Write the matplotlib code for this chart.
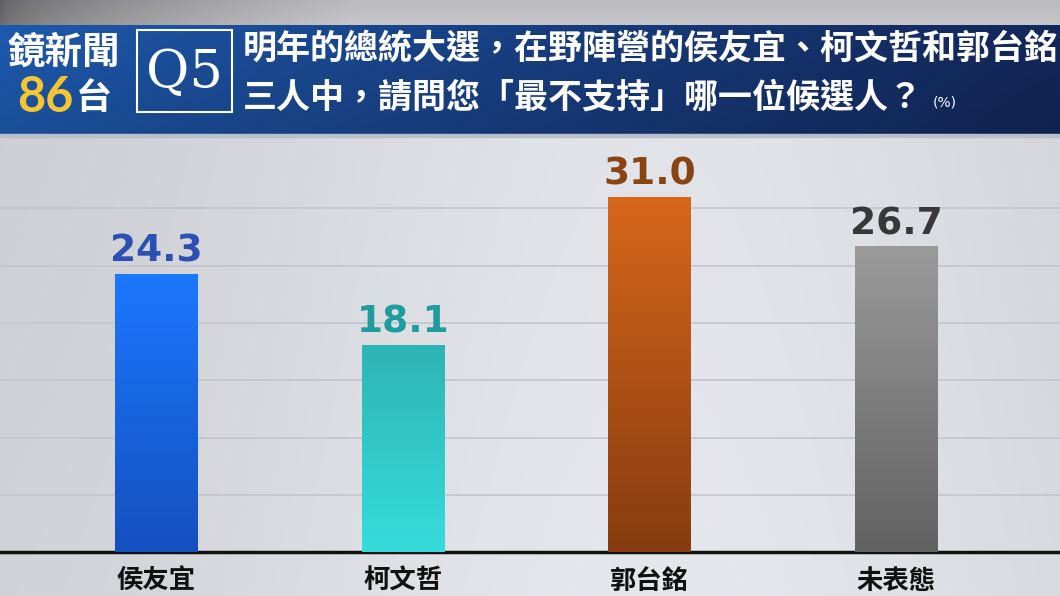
import numpy as np
import matplotlib
matplotlib.use("Agg")
import matplotlib.pyplot as plt
from matplotlib.colors import LinearSegmentedColormap
from matplotlib.patches import Rectangle

categories = ["侯友宜", "柯文哲", "郭台銘", "未表態"]
values = [24.3, 18.1, 31.0, 26.7]
value_labels = ["24.3", "18.1", "31.0", "26.7"]
bar_top_colors = ["#1c78ff", "#2eb4b4", "#d8671b", "#9a9a9a"]
bar_bottom_colors = ["#1450bf", "#36dcdc", "#863c10", "#626262"]
label_colors = ["#2b4fb3", "#1f9c9e", "#8a4412", "#383838"]
title_line1 = "明年的總統大選，在野陣營的侯友宜、柯文哲和郭台銘"
title_line2 = "三人中，請問您「最不支持」哪一位候選人？"

CJK = ["Noto Sans CJK TC", "DejaVu Sans"]
plt.rcParams["font.family"] = CJK

W, H = 1060, 596
fig = plt.figure(figsize=(W / 100, H / 100), dpi=100)

# ---- background
bg = fig.add_axes([0, 0, 1, 1])
bg.set_xlim(0, W)
bg.set_ylim(H, 0)
bg.axis("off")
xx = np.linspace(0, 1, 300)
yy = np.linspace(0, 1, 200)
X, Y = np.meshgrid(xx, yy)
base = 0.80 + 0.09 * np.exp(-((X - 0.62) ** 2) / 0.18) + 0.02 * Y
rgb = np.dstack([base * 0.985, base * 0.995, base * 1.02]).clip(0, 1)
bg.imshow(rgb, extent=[0, W, H, 0], aspect="auto", zorder=0)
# top gray band
tb = 0.38 + 0.35 * np.clip(X * 3, 0, 1) ** 0.6
tb = tb[:20] + 0.1 * Y[:20] * 5
tb_rgb = np.dstack([tb, tb, tb * 1.02]).clip(0, 1)
bg.imshow(tb_rgb, extent=[0, W, 25, 0], aspect="auto", zorder=1)
# blue banner
c1 = np.array([0x1e, 0x5a, 0xae]) / 255
c2 = np.array([0x13, 0x27, 0x5a]) / 255
t = np.clip(X ** 0.9, 0, 1)[..., None]
ban = c1 * (1 - t) + c2 * t
ban = ban * (1 - 0.12 * Y[..., None])
bg.imshow(ban.clip(0, 1), extent=[0, W, 136, 25], aspect="auto", zorder=1)
bg.add_patch(Rectangle((0, 134), W, 3, color="#b8c0cc", zorder=2))

# logo
bg.text(64, 52, "鏡新聞", color="white", fontsize=27, fontweight="bold",
        ha="center", va="center", zorder=3)
bg.text(17, 97, "86", color="#f3c531", fontsize=35, fontweight="bold",
        ha="left", va="center", family=["Lato", "DejaVu Sans"], zorder=3)
bg.text(112, 98, "台", color="white", fontsize=26, fontweight="bold",
        ha="right", va="center", zorder=3)
# Q5 box
bg.add_patch(Rectangle((137, 30), 95, 82, fill=False, edgecolor="white", lw=1.5, zorder=3))
bg.text(184.5, 72, "Q5", color="white", fontsize=38, ha="center", va="center",
        family=["DejaVu Serif"], zorder=3)
# title
bg.text(243, 48, title_line1, color="white", fontsize=24.5, fontweight="bold",
        ha="left", va="center", zorder=3)
bg.text(243, 97, title_line2, color="white", fontsize=24.5, fontweight="bold",
        ha="left", va="center", zorder=3)
bg.text(933, 103, "(%)", color="white", fontsize=10, ha="left", va="center",
        family=["DejaVu Sans"], zorder=3)

# ---- chart axes
top_px, base_px = 138, 552
ax = fig.add_axes([0, 1 - base_px / H, 1, (base_px - top_px) / H])
ax.patch.set_alpha(0)
spacing = 246.7
x = np.arange(len(categories))
ax.set_xlim(-156.5 / spacing, 3 + (W - 896.5) / spacing)
ax.set_ylim(0, (base_px - top_px) / 11.45)
ax.set_yticks(np.arange(5, 31, 5))
ax.yaxis.grid(True, color="#c2c5cc", lw=1.2)
ax.set_axisbelow(True)
ax.tick_params(left=False, labelleft=False, bottom=False, labelbottom=False)
for s in ["top", "right", "left"]:
    ax.spines[s].set_visible(False)
ax.spines["bottom"].set_color("#111111")
ax.spines["bottom"].set_linewidth(2.5)

bars = ax.bar(x, values, width=0.336, color="none", zorder=3)
grad = np.linspace(0, 1, 256).reshape(-1, 1)
for b, ct, cb in zip(bars, bar_top_colors, bar_bottom_colors):
    cmap = LinearSegmentedColormap.from_list("g", [cb, ct])
    x0, w, h = b.get_x(), b.get_width(), b.get_height()
    im = ax.imshow(grad, extent=[x0, x0 + w, 0, h], origin="lower", cmap=cmap,
                   aspect="auto", zorder=3)
    im.set_clip_path(b)

for xi, v, lab, col in zip(x, values, value_labels, label_colors):
    ax.annotate(lab, (xi, v), xytext=(0, 3), textcoords="offset points",
                ha="center", va="bottom", fontsize=27, fontweight="bold",
                color=col, family=["DejaVu Sans"], zorder=4)

ax.set_xticks(x)
for xi, c in zip(x, categories):
    ax.annotate(c, (xi, 0), xytext=(0, -21), textcoords="offset points",
                ha="center", va="center", fontsize=19, fontweight="bold",
                color="#111111", annotation_clip=False)

fig.savefig("out.png", dpi=100)
